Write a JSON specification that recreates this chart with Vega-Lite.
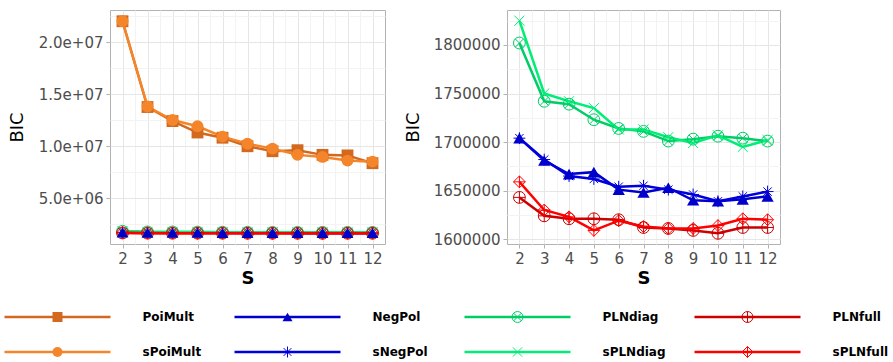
{
  "$schema": "https://vega.github.io/schema/vega-lite/v6.json",
  "background": "white",
  "padding": {"left": -1, "top": 9, "right": 0, "bottom": 0},
  "spacing": 12,
  "config": {
    "font": "DejaVu Sans",
    "view": {"stroke": "#b3b3b3", "strokeWidth": 1},
    "axis": {
      "labelFont": "DejaVu Sans",
      "labelFontSize": 15,
      "labelColor": "#4d4d4d",
      "titleFont": "DejaVu Sans",
      "titleColor": "#000000",
      "titleFontWeight": "normal",
      "tickColor": "#b3b3b3",
      "tickSize": 4,
      "domain": false,
      "labelPadding": 3
    }
  },
  "datasets": {
    "bic": [
      {"model": "PoiMult", "S": 2, "BIC": 22000000}, {"model": "PoiMult", "S": 3, "BIC": 13750000}, {"model": "PoiMult", "S": 4, "BIC": 12400000}, {"model": "PoiMult", "S": 5, "BIC": 11300000}, {"model": "PoiMult", "S": 6, "BIC": 10800000}, {"model": "PoiMult", "S": 7, "BIC": 9980000}, {"model": "PoiMult", "S": 8, "BIC": 9500000}, {"model": "PoiMult", "S": 9, "BIC": 9600000}, {"model": "PoiMult", "S": 10, "BIC": 9150000}, {"model": "PoiMult", "S": 11, "BIC": 9100000}, {"model": "PoiMult", "S": 12, "BIC": 8350000},
      {"model": "sPoiMult", "S": 2, "BIC": 22000000}, {"model": "sPoiMult", "S": 3, "BIC": 13800000}, {"model": "sPoiMult", "S": 4, "BIC": 12500000}, {"model": "sPoiMult", "S": 5, "BIC": 11900000}, {"model": "sPoiMult", "S": 6, "BIC": 10900000}, {"model": "sPoiMult", "S": 7, "BIC": 10220000}, {"model": "sPoiMult", "S": 8, "BIC": 9750000}, {"model": "sPoiMult", "S": 9, "BIC": 9150000}, {"model": "sPoiMult", "S": 10, "BIC": 8950000}, {"model": "sPoiMult", "S": 11, "BIC": 8600000}, {"model": "sPoiMult", "S": 12, "BIC": 8500000},
      {"model": "NegPol", "S": 2, "BIC": 1704000}, {"model": "NegPol", "S": 3, "BIC": 1681000}, {"model": "NegPol", "S": 4, "BIC": 1667000}, {"model": "NegPol", "S": 5, "BIC": 1669000}, {"model": "NegPol", "S": 6, "BIC": 1651000}, {"model": "NegPol", "S": 7, "BIC": 1648000}, {"model": "NegPol", "S": 8, "BIC": 1653000}, {"model": "NegPol", "S": 9, "BIC": 1640000}, {"model": "NegPol", "S": 10, "BIC": 1639000}, {"model": "NegPol", "S": 11, "BIC": 1641000}, {"model": "NegPol", "S": 12, "BIC": 1644000},
      {"model": "sNegPol", "S": 2, "BIC": 1704000}, {"model": "sNegPol", "S": 3, "BIC": 1682000}, {"model": "sNegPol", "S": 4, "BIC": 1665000}, {"model": "sNegPol", "S": 5, "BIC": 1662000}, {"model": "sNegPol", "S": 6, "BIC": 1654000}, {"model": "sNegPol", "S": 7, "BIC": 1655000}, {"model": "sNegPol", "S": 8, "BIC": 1651000}, {"model": "sNegPol", "S": 9, "BIC": 1646000}, {"model": "sNegPol", "S": 10, "BIC": 1639000}, {"model": "sNegPol", "S": 11, "BIC": 1644000}, {"model": "sNegPol", "S": 12, "BIC": 1649000},
      {"model": "PLNdiag", "S": 2, "BIC": 1802000}, {"model": "PLNdiag", "S": 3, "BIC": 1742000}, {"model": "PLNdiag", "S": 4, "BIC": 1739000}, {"model": "PLNdiag", "S": 5, "BIC": 1723000}, {"model": "PLNdiag", "S": 6, "BIC": 1714000}, {"model": "PLNdiag", "S": 7, "BIC": 1711000}, {"model": "PLNdiag", "S": 8, "BIC": 1701000}, {"model": "PLNdiag", "S": 9, "BIC": 1703000}, {"model": "PLNdiag", "S": 10, "BIC": 1706000}, {"model": "PLNdiag", "S": 11, "BIC": 1704000}, {"model": "PLNdiag", "S": 12, "BIC": 1701000},
      {"model": "sPLNdiag", "S": 2, "BIC": 1825000}, {"model": "sPLNdiag", "S": 3, "BIC": 1750000}, {"model": "sPLNdiag", "S": 4, "BIC": 1742000}, {"model": "sPLNdiag", "S": 5, "BIC": 1735000}, {"model": "sPLNdiag", "S": 6, "BIC": 1713000}, {"model": "sPLNdiag", "S": 7, "BIC": 1713000}, {"model": "sPLNdiag", "S": 8, "BIC": 1705000}, {"model": "sPLNdiag", "S": 9, "BIC": 1699000}, {"model": "sPLNdiag", "S": 10, "BIC": 1707000}, {"model": "sPLNdiag", "S": 11, "BIC": 1695000}, {"model": "sPLNdiag", "S": 12, "BIC": 1702000},
      {"model": "PLNfull", "S": 2, "BIC": 1643000}, {"model": "PLNfull", "S": 3, "BIC": 1624000}, {"model": "PLNfull", "S": 4, "BIC": 1621000}, {"model": "PLNfull", "S": 5, "BIC": 1621000}, {"model": "PLNfull", "S": 6, "BIC": 1620000}, {"model": "PLNfull", "S": 7, "BIC": 1612000}, {"model": "PLNfull", "S": 8, "BIC": 1611000}, {"model": "PLNfull", "S": 9, "BIC": 1609000}, {"model": "PLNfull", "S": 10, "BIC": 1606000}, {"model": "PLNfull", "S": 11, "BIC": 1612000}, {"model": "PLNfull", "S": 12, "BIC": 1612000},
      {"model": "sPLNfull", "S": 2, "BIC": 1659000}, {"model": "sPLNfull", "S": 3, "BIC": 1630000}, {"model": "sPLNfull", "S": 4, "BIC": 1623000}, {"model": "sPLNfull", "S": 5, "BIC": 1609000}, {"model": "sPLNfull", "S": 6, "BIC": 1619000}, {"model": "sPLNfull", "S": 7, "BIC": 1613000}, {"model": "sPLNfull", "S": 8, "BIC": 1611000}, {"model": "sPLNfull", "S": 9, "BIC": 1611000}, {"model": "sPLNfull", "S": 10, "BIC": 1614000}, {"model": "sPLNfull", "S": 11, "BIC": 1621000}, {"model": "sPLNfull", "S": 12, "BIC": 1620000}
    ],
    "leg": [
      {"model": "PoiMult", "family": "PoiMult", "variant": "standard"},
      {"model": "sPoiMult", "family": "PoiMult", "variant": "sparse"},
      {"model": "NegPol", "family": "NegPol", "variant": "standard"},
      {"model": "sNegPol", "family": "NegPol", "variant": "sparse"},
      {"model": "PLNdiag", "family": "PLNdiag", "variant": "standard"},
      {"model": "sPLNdiag", "family": "PLNdiag", "variant": "sparse"},
      {"model": "PLNfull", "family": "PLNfull", "variant": "standard"},
      {"model": "sPLNfull", "family": "PLNfull", "variant": "sparse"}
    ]
  },
  "vconcat": [
    {
      "hconcat": [
        {
          "width": 275,
          "height": 234,
          "data": {"name": "bic"},
          "encoding": {
            "x": {
              "field": "S", "type": "quantitative",
              "scale": {"domain": [1.5, 12.5], "nice": false, "zero": false},
              "axis": {
                "values": [2, 2.5, 3, 3.5, 4, 4.5, 5, 5.5, 6, 6.5, 7, 7.5, 8, 8.5, 9, 9.5, 10, 10.5, 11, 11.5, 12],
                "labelExpr": "datum.value % 1 == 0 ? format(datum.value, 'd') : ''",
                "title": "S", "titleFontWeight": "bold", "titleFontSize": 18, "titlePadding": 3,
                "gridColor": {"condition": {"test": "datum.value % 1 != 0", "value": "#f3f3f3"}, "value": "#e6e6e6"},
                "tickOpacity": {"condition": {"test": "datum.value % 1 != 0", "value": 0}, "value": 1}
              }
            },
            "y": {
              "field": "BIC", "type": "quantitative",
              "scale": {"domain": [580000, 23080000], "nice": false, "zero": false},
              "axis": {
                "values": [2500000, 5000000, 7500000, 10000000, 12500000, 15000000, 17500000, 20000000, 22500000],
                "labelExpr": "datum.value % 5000000 == 0 ? replace(format(datum.value, '.1e'), 'e+', 'e+0') : ''",
                "title": "BIC", "titleFontSize": 18, "titlePadding": 12,
                "gridColor": {"condition": {"test": "datum.value % 5000000 != 0", "value": "#f3f3f3"}, "value": "#e6e6e6"},
                "tickOpacity": {"condition": {"test": "datum.value % 5000000 != 0", "value": 0}, "value": 1}
              }
            },
            "color": {
              "field": "model", "type": "nominal", "legend": null,
              "scale": {
                "domain": ["PoiMult", "sPoiMult", "NegPol", "sNegPol", "PLNdiag", "sPLNdiag", "PLNfull", "sPLNfull"],
                "range": ["#D2691E", "#F5852A", "#0000CD", "#0000DD", "#00CD66", "#00EE76", "#CD0000", "#FF0000"]
              }
            }
          },
          "layer": [
            {"mark": {"type": "line", "strokeWidth": 2.5}, "encoding": {}},
            {
              "transform": [{"filter": {"field": "model", "oneOf": ["sNegPol", "PLNdiag", "sPLNdiag", "PLNfull", "sPLNfull"]}}],
              "mark": {"type": "point", "filled": false, "strokeWidth": 1, "size": 140, "opacity": 1},
              "encoding": {
                "shape": {
                  "field": "model", "type": "nominal", "legend": null,
                  "scale": {
                    "domain": ["PoiMult", "sPoiMult", "NegPol", "sNegPol", "PLNdiag", "sPLNdiag", "PLNfull", "sPLNfull"],
                    "range": ["square", "circle", "triangle-up",
                      "M-1,0L1,0M0,-1L0,1M-0.707,-0.707L0.707,0.707M-0.707,0.707L0.707,-0.707",
                      "M-1,0A1,1,0,1,1,1,0A1,1,0,1,1,-1,0ZM-0.707,-0.707L0.707,0.707M-0.707,0.707L0.707,-0.707",
                      "M-0.85,-0.85L0.85,0.85M-0.85,0.85L0.85,-0.85",
                      "M-1,0A1,1,0,1,1,1,0A1,1,0,1,1,-1,0ZM-1,0L1,0M0,-1L0,1",
                      "M0,-1L1,0L0,1L-1,0ZM-1,0L1,0M0,-1L0,1"]
                  }
                }
              }
            },
            {
              "transform": [{"filter": {"field": "model", "oneOf": ["PoiMult", "sPoiMult", "NegPol"]}}],
              "mark": {"type": "point", "filled": true, "size": 140, "opacity": 1},
              "encoding": {
                "shape": {
                  "field": "model", "type": "nominal", "legend": null,
                  "scale": {
                    "domain": ["PoiMult", "sPoiMult", "NegPol", "sNegPol", "PLNdiag", "sPLNdiag", "PLNfull", "sPLNfull"],
                    "range": ["square", "circle", "triangle-up",
                      "M-1,0L1,0M0,-1L0,1M-0.707,-0.707L0.707,0.707M-0.707,0.707L0.707,-0.707",
                      "M-1,0A1,1,0,1,1,1,0A1,1,0,1,1,-1,0ZM-0.707,-0.707L0.707,0.707M-0.707,0.707L0.707,-0.707",
                      "M-0.85,-0.85L0.85,0.85M-0.85,0.85L0.85,-0.85",
                      "M-1,0A1,1,0,1,1,1,0A1,1,0,1,1,-1,0ZM-1,0L1,0M0,-1L0,1",
                      "M0,-1L1,0L0,1L-1,0ZM-1,0L1,0M0,-1L0,1"]
                  }
                }
              }
            }
          ]
        },
        {
          "width": 273,
          "height": 234,
          "data": {"name": "bic"},
          "transform": [{"filter": {"field": "model", "oneOf": ["NegPol", "sNegPol", "PLNdiag", "sPLNdiag", "PLNfull", "sPLNfull"]}}],
          "encoding": {
            "x": {
              "field": "S", "type": "quantitative",
              "scale": {"domain": [1.5, 12.5], "nice": false, "zero": false},
              "axis": {
                "values": [2, 2.5, 3, 3.5, 4, 4.5, 5, 5.5, 6, 6.5, 7, 7.5, 8, 8.5, 9, 9.5, 10, 10.5, 11, 11.5, 12],
                "labelExpr": "datum.value % 1 == 0 ? format(datum.value, 'd') : ''",
                "title": "S", "titleFontWeight": "bold", "titleFontSize": 18, "titlePadding": 3,
                "gridColor": {"condition": {"test": "datum.value % 1 != 0", "value": "#f3f3f3"}, "value": "#e6e6e6"},
                "tickOpacity": {"condition": {"test": "datum.value % 1 != 0", "value": 0}, "value": 1}
              }
            },
            "y": {
              "field": "BIC", "type": "quantitative",
              "scale": {"domain": [1595000, 1836000], "nice": false, "zero": false},
              "axis": {
                "values": [1600000, 1625000, 1650000, 1675000, 1700000, 1725000, 1750000, 1775000, 1800000, 1825000],
                "labelExpr": "datum.value % 50000 == 0 ? format(datum.value, 'd') : ''",
                "title": "BIC", "titleFontSize": 18, "titlePadding": 11,
                "gridColor": {"condition": {"test": "datum.value % 50000 != 0", "value": "#f3f3f3"}, "value": "#e6e6e6"},
                "tickOpacity": {"condition": {"test": "datum.value % 50000 != 0", "value": 0}, "value": 1}
              }
            },
            "color": {
              "field": "model", "type": "nominal", "legend": null,
              "scale": {
                "domain": ["PoiMult", "sPoiMult", "NegPol", "sNegPol", "PLNdiag", "sPLNdiag", "PLNfull", "sPLNfull"],
                "range": ["#D2691E", "#F5852A", "#0000CD", "#0000DD", "#00CD66", "#00EE76", "#CD0000", "#FF0000"]
              }
            }
          },
          "layer": [
            {"mark": {"type": "line", "strokeWidth": 2.5}, "encoding": {}},
            {
              "transform": [{"filter": {"field": "model", "oneOf": ["sNegPol", "PLNdiag", "sPLNdiag", "PLNfull", "sPLNfull"]}}],
              "mark": {"type": "point", "filled": false, "strokeWidth": 1, "size": 140, "opacity": 1},
              "encoding": {
                "shape": {
                  "field": "model", "type": "nominal", "legend": null,
                  "scale": {
                    "domain": ["PoiMult", "sPoiMult", "NegPol", "sNegPol", "PLNdiag", "sPLNdiag", "PLNfull", "sPLNfull"],
                    "range": ["square", "circle", "triangle-up",
                      "M-1,0L1,0M0,-1L0,1M-0.707,-0.707L0.707,0.707M-0.707,0.707L0.707,-0.707",
                      "M-1,0A1,1,0,1,1,1,0A1,1,0,1,1,-1,0ZM-0.707,-0.707L0.707,0.707M-0.707,0.707L0.707,-0.707",
                      "M-0.85,-0.85L0.85,0.85M-0.85,0.85L0.85,-0.85",
                      "M-1,0A1,1,0,1,1,1,0A1,1,0,1,1,-1,0ZM-1,0L1,0M0,-1L0,1",
                      "M0,-1L1,0L0,1L-1,0ZM-1,0L1,0M0,-1L0,1"]
                  }
                }
              }
            },
            {
              "transform": [{"filter": {"field": "model", "oneOf": ["NegPol"]}}],
              "mark": {"type": "point", "filled": true, "size": 150, "opacity": 1},
              "encoding": {
                "shape": {
                  "field": "model", "type": "nominal", "legend": null,
                  "scale": {
                    "domain": ["PoiMult", "sPoiMult", "NegPol", "sNegPol", "PLNdiag", "sPLNdiag", "PLNfull", "sPLNfull"],
                    "range": ["square", "circle", "triangle-up",
                      "M-1,0L1,0M0,-1L0,1M-0.707,-0.707L0.707,0.707M-0.707,0.707L0.707,-0.707",
                      "M-1,0A1,1,0,1,1,1,0A1,1,0,1,1,-1,0ZM-0.707,-0.707L0.707,0.707M-0.707,0.707L0.707,-0.707",
                      "M-0.85,-0.85L0.85,0.85M-0.85,0.85L0.85,-0.85",
                      "M-1,0A1,1,0,1,1,1,0A1,1,0,1,1,-1,0ZM-1,0L1,0M0,-1L0,1",
                      "M0,-1L1,0L0,1L-1,0ZM-1,0L1,0M0,-1L0,1"]
                  }
                }
              }
            }
          ]
        }
      ],
      "spacing": 122,
      "bounds": "flush",
      "resolve": {"scale": {"x": "independent", "y": "independent"}}
    },
    {
      "width": 275,
      "height": 62,
      "view": {"stroke": null},
      "data": {"name": "leg"},
      "encoding": {
        "x": {"field": "family", "type": "nominal", "axis": null,
          "scale": {"type": "point", "domain": ["PoiMult", "NegPol", "PLNdiag", "PLNfull"], "range": [-52.5, 637.5], "padding": 0}},
        "y": {"field": "variant", "type": "nominal", "axis": null,
          "scale": {"type": "point", "domain": ["standard", "sparse"], "range": [17, 52], "padding": 0}},
        "color": {
          "field": "model", "type": "nominal", "legend": null,
          "scale": {
            "domain": ["PoiMult", "sPoiMult", "NegPol", "sNegPol", "PLNdiag", "sPLNdiag", "PLNfull", "sPLNfull"],
            "range": ["#D2691E", "#F5852A", "#0000CD", "#0000DD", "#00CD66", "#00EE76", "#CD0000", "#FF0000"]
          }
        }
      },
      "layer": [
        {"mark": {"type": "point", "shape": "M-1,0L1,0", "size": 11236, "strokeWidth": 2.5, "filled": false, "opacity": 1}, "encoding": {}},
        {
          "transform": [{"filter": {"field": "model", "oneOf": ["sNegPol", "PLNdiag", "sPLNdiag", "PLNfull", "sPLNfull"]}}],
          "mark": {"type": "point", "filled": false, "strokeWidth": 1, "size": 120, "opacity": 1},
          "encoding": {
            "shape": {
              "field": "model", "type": "nominal", "legend": null,
              "scale": {
                "domain": ["PoiMult", "sPoiMult", "NegPol", "sNegPol", "PLNdiag", "sPLNdiag", "PLNfull", "sPLNfull"],
                "range": ["square", "circle", "triangle-up",
                  "M-1,0L1,0M0,-1L0,1M-0.707,-0.707L0.707,0.707M-0.707,0.707L0.707,-0.707",
                  "M-1,0A1,1,0,1,1,1,0A1,1,0,1,1,-1,0ZM-0.707,-0.707L0.707,0.707M-0.707,0.707L0.707,-0.707",
                  "M-0.85,-0.85L0.85,0.85M-0.85,0.85L0.85,-0.85",
                  "M-1,0A1,1,0,1,1,1,0A1,1,0,1,1,-1,0ZM-1,0L1,0M0,-1L0,1",
                  "M0,-1L1,0L0,1L-1,0ZM-1,0L1,0M0,-1L0,1"]
              }
            }
          }
        },
        {
          "transform": [{"filter": {"field": "model", "oneOf": ["PoiMult", "sPoiMult", "NegPol"]}}],
          "mark": {"type": "point", "filled": true, "size": 100, "opacity": 1},
          "encoding": {
            "shape": {
              "field": "model", "type": "nominal", "legend": null,
              "scale": {
                "domain": ["PoiMult", "sPoiMult", "NegPol", "sNegPol", "PLNdiag", "sPLNdiag", "PLNfull", "sPLNfull"],
                "range": ["square", "circle", "triangle-up",
                  "M-1,0L1,0M0,-1L0,1M-0.707,-0.707L0.707,0.707M-0.707,0.707L0.707,-0.707",
                  "M-1,0A1,1,0,1,1,1,0A1,1,0,1,1,-1,0ZM-0.707,-0.707L0.707,0.707M-0.707,0.707L0.707,-0.707",
                  "M-0.85,-0.85L0.85,0.85M-0.85,0.85L0.85,-0.85",
                  "M-1,0A1,1,0,1,1,1,0A1,1,0,1,1,-1,0ZM-1,0L1,0M0,-1L0,1",
                  "M0,-1L1,0L0,1L-1,0ZM-1,0L1,0M0,-1L0,1"]
              }
            }
          }
        },
        {
          "mark": {"type": "text", "align": "left", "baseline": "middle", "dx": 85, "fontWeight": "bold", "fontSize": 12, "font": "DejaVu Sans"},
          "encoding": {"text": {"field": "model"}, "color": {"value": "#000000"}}
        }
      ]
    }
  ]
}
